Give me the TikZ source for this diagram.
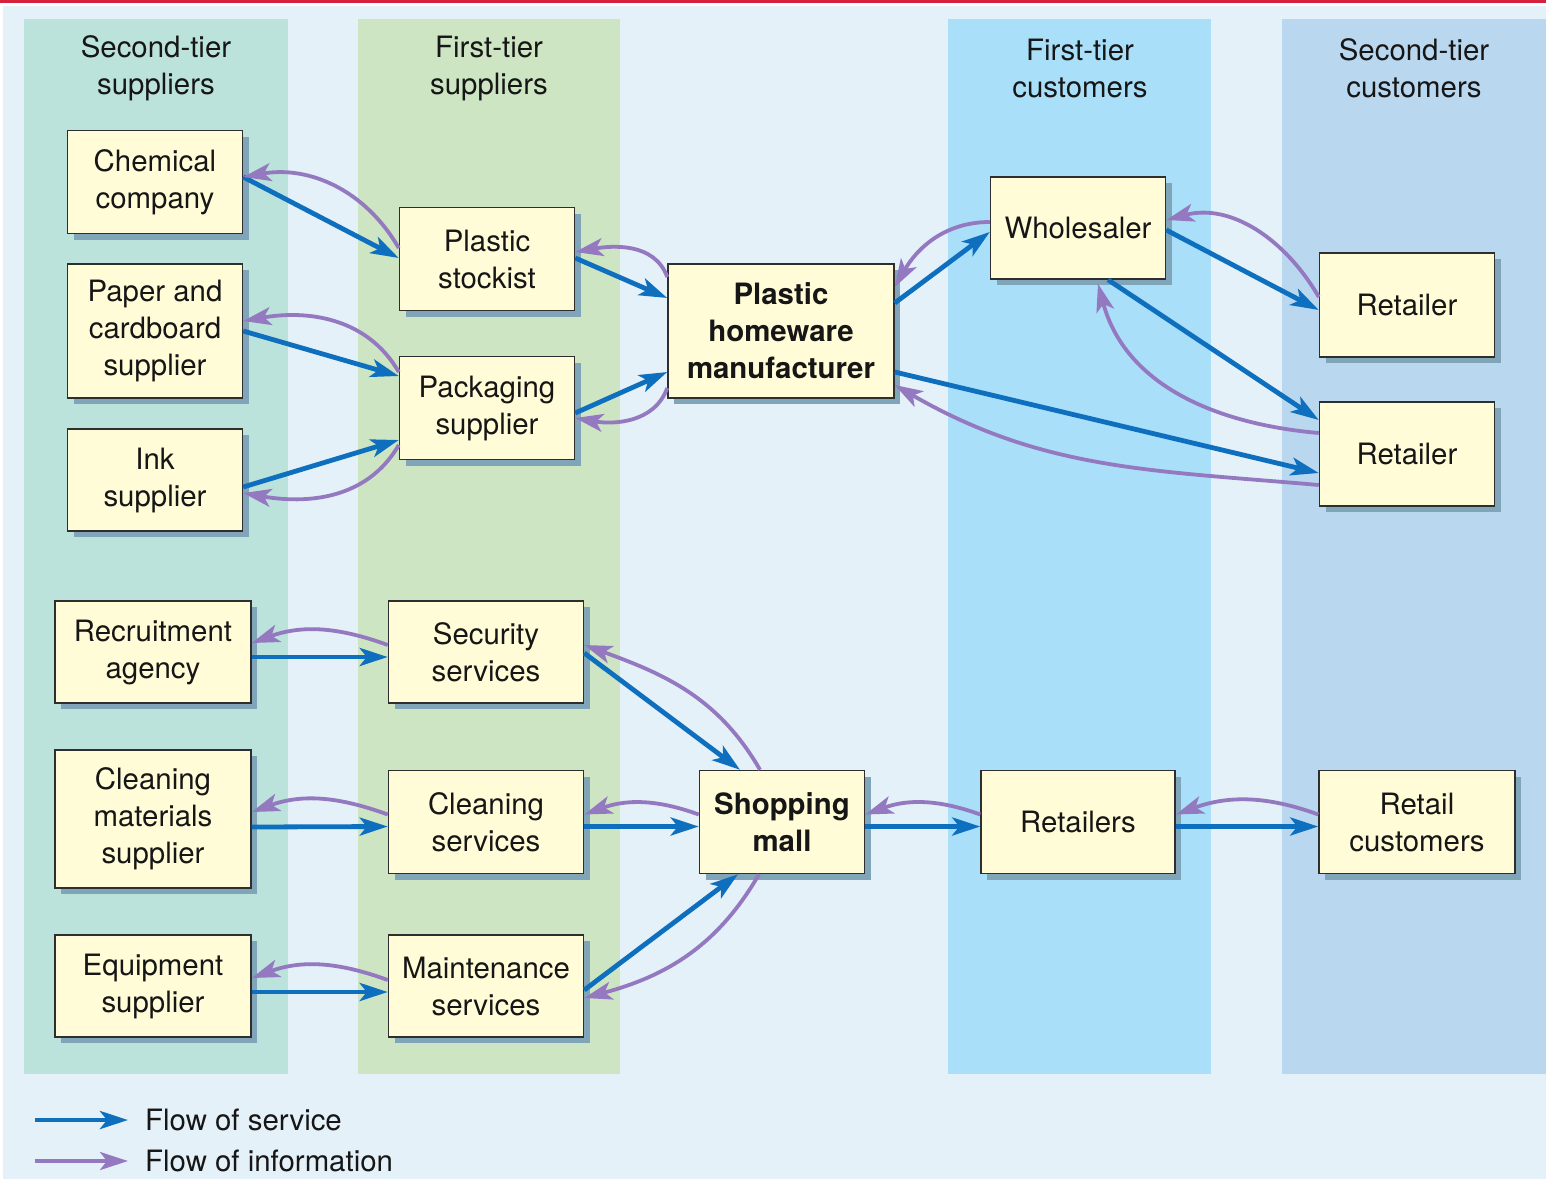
\documentclass[tikz,border=0pt]{standalone}
\usepackage{fontspec}
\setmainfont{TeX Gyre Heros}
\usepackage{tikz}
\usetikzlibrary{arrows.meta}
\usetikzlibrary{shadows}

\definecolor{redline}{HTML}{D5203E}
\definecolor{bgblue}{HTML}{E4F1F8}
\definecolor{colone}{HTML}{BBE3DB}
\definecolor{coltwo}{HTML}{CDE5C3}
\definecolor{colthree}{HTML}{A9DFF9}
\definecolor{colfour}{HTML}{B9D8EF}
\definecolor{boxfill}{HTML}{FFFCD7}
\definecolor{boxline}{HTML}{2E2E2E}
\definecolor{shadowc}{HTML}{80A4B8}
\definecolor{svcblue}{HTML}{0E6FBE}
\definecolor{infpurple}{HTML}{9479C0}
\definecolor{txt}{HTML}{161616}

\tikzset{
  hdr/.style={align=center,text=txt,inner sep=0pt,font=\fontsize{29.4}{37}\selectfont},
  box/.style={draw=boxline,line width=1.5pt,fill=boxfill,align=center,text=txt,inner sep=0pt,
    font=\fontsize{29.4}{37}\selectfont,
    drop shadow={shadow xshift=6pt,shadow yshift=-6pt,fill=shadowc,opacity=1}},
  hub/.style={box,font=\fontsize{29.4}{37}\selectfont\bfseries},
  svc/.style={draw=svcblue,line width=4.8pt,-{Stealth[length=28pt,width=18pt,inset=7pt]}},
  inf/.style={draw=infpurple,line width=3.8pt,-{Stealth[length=28pt,width=18pt,inset=7pt]}},
  legend/.style={anchor=west,inner sep=0pt,text=txt,font=\fontsize{29.4}{37}\selectfont}
}

\begin{document}
\begin{tikzpicture}[x=1pt,y=1pt]
  \useasboundingbox (0,0) rectangle (1546,-1179);
  \fill[white] (0,0) rectangle (1546,-1179);
  \fill[redline] (0,0) rectangle (1546,-3);
  \fill[bgblue] (3,-6) rectangle (1546,-1179);
  % columns
  \fill[colone] (24,-19) rectangle (288,-1074);
  \fill[coltwo] (358,-19) rectangle (620,-1074);
  \fill[colthree] (948,-19) rectangle (1211,-1074);
  \fill[colfour] (1282,-19) rectangle (1546,-1074);
  \node[hdr] (hsecsup) at (156,-68) {Second-tier\\suppliers};
  \node[hdr] (hfirsup) at (489,-68) {First-tier\\suppliers};
  \node[hdr] (hfircus) at (1080,-68) {First-tier\\customers};
  \node[hdr] (hseccus) at (1414,-68) {Second-tier\\customers};

  % plastic homeware chain
  \node[box,minimum width=175pt,minimum height=103pt] (chem) at (155,-182) {Chemical\\company};
  \node[box,minimum width=175pt,minimum height=134pt] (paper) at (155,-331) {Paper and\\cardboard\\supplier};
  \node[box,minimum width=175pt,minimum height=102pt] (ink) at (155,-480) {Ink\\supplier};
  \node[box,minimum width=175pt,minimum height=103pt] (plast) at (487,-259) {Plastic\\stockist};
  \node[box,minimum width=175pt,minimum height=103pt] (pack) at (487,-408) {Packaging\\supplier};
  \node[hub,minimum width=226pt,minimum height=134pt] (manu) at (781,-331) {Plastic\\homeware\\manufacturer};
  \node[box,minimum width=175pt,minimum height=102pt] (whole) at (1078,-228) {Wholesaler};
  \node[box,minimum width=175pt,minimum height=104pt] (retone) at (1407,-305) {Retailer};
  \node[box,minimum width=175pt,minimum height=104pt] (rettwo) at (1407,-454) {Retailer};

  % shopping mall chain
  \node[box,minimum width=196pt,minimum height=102pt] (recr) at (153,-652) {Recruitment\\agency};
  \node[box,minimum width=196pt,minimum height=138pt] (cmat) at (153,-819) {Cleaning\\materials\\supplier};
  \node[box,minimum width=196pt,minimum height=102pt] (equip) at (153,-986) {Equipment\\supplier};
  \node[box,minimum width=195pt,minimum height=102pt] (sec) at (486,-652) {Security\\services};
  \node[box,minimum width=195pt,minimum height=103pt] (cserv) at (486,-822) {Cleaning\\services};
  \node[box,minimum width=195pt,minimum height=102pt] (maint) at (486,-986) {Maintenance\\services};
  \node[hub,minimum width=165pt,minimum height=103pt] (mall) at (782,-822) {Shopping\\mall};
  \node[box,minimum width=194pt,minimum height=103pt] (rets) at (1078,-822) {Retailers};
  \node[box,minimum width=196pt,minimum height=103pt] (rcust) at (1417,-822) {Retail\\customers};

  % flows, upper chain
  \draw[svc] ([yshift=5pt]chem.east) -- ([yshift=1pt]plast.west);
  \draw[inf] ([yshift=11pt]plast.west) to[out=120,in=10] ([yshift=5pt]chem.east);
  \draw[svc] (paper.east) -- ([yshift=32pt]pack.west);
  \draw[inf] ([yshift=36pt]pack.west) to[out=120,in=10] ([yshift=10pt]paper.east);
  \draw[svc] ([yshift=-7pt]ink.east) -- ([yshift=-32pt]pack.west);
  \draw[inf] ([yshift=-37pt]pack.west) to[out=-120,in=-10] ([yshift=-13pt]ink.east);
  \draw[svc] ([yshift=1pt]plast.east) -- ([yshift=33pt]manu.west);
  \draw[inf] ([yshift=54pt]manu.west) to[out=110,in=10] ([yshift=7pt]plast.east);
  \draw[svc] ([yshift=-5pt]pack.east) -- ([yshift=-41pt]manu.west);
  \draw[inf] ([yshift=-57pt]manu.west) to[out=-110,in=-10] ([yshift=-10pt]pack.east);
  \draw[svc] ([yshift=28pt]manu.east) -- ([yshift=-4pt]whole.west);
  \draw[inf] ([yshift=6pt]whole.west) to[out=180,in=60] ([yshift=44pt]manu.east);
  \draw[svc] ([yshift=-2pt]whole.east) -- ([yshift=-5pt]retone.west);
  \draw[inf] ([yshift=8pt]retone.west) to[out=120,in=15] ([yshift=8pt]whole.east);
  \draw[svc] ([xshift=30pt]whole.south) -- ([yshift=34pt]rettwo.west);
  \draw[inf] ([yshift=21pt]rettwo.west) to[out=175,in=-75] ([xshift=20pt,yshift=-4pt]whole.south);
  \draw[svc] ([yshift=-41pt]manu.east) -- ([yshift=-19pt]rettwo.west);
  \draw[inf] ([yshift=-31pt]rettwo.west) to[out=175,in=-30] ([yshift=-54pt]manu.east);

  % flows, lower chain
  \draw[svc] ([yshift=-5pt]recr.east) -- ([yshift=-5pt]sec.west);
  \draw[inf] ([yshift=7pt]sec.west) to[out=160,in=20] ([yshift=9pt]recr.east);
  \draw[svc] ([yshift=-8pt]cmat.east) -- ([yshift=-4.5pt]cserv.west);
  \draw[inf] ([yshift=7.5pt]cserv.west) to[out=160,in=20] ([yshift=7pt]cmat.east);
  \draw[svc] ([yshift=-6pt]equip.east) -- ([yshift=-6pt]maint.west);
  \draw[inf] ([yshift=6pt]maint.west) to[out=160,in=20] ([yshift=8pt]equip.east);
  \draw[svc] ([yshift=-1pt]sec.east) -- ([xshift=-42pt]mall.north);
  \draw[inf] ([xshift=-22pt]mall.north) to[out=120,in=-20] ([yshift=7pt]sec.east);
  \draw[svc] ([yshift=-4.5pt]cserv.east) -- ([yshift=-4.5pt]mall.west);
  \draw[inf] ([yshift=7.5pt]mall.west) to[out=160,in=20] ([yshift=7.5pt]cserv.east);
  \draw[svc] ([yshift=-4pt]maint.east) -- ([xshift=-44pt]mall.south);
  \draw[inf] ([xshift=-23pt]mall.south) to[out=-120,in=15] ([yshift=-12pt]maint.east);
  \draw[svc] ([yshift=-4.5pt]mall.east) -- ([yshift=-4.5pt]rets.west);
  \draw[inf] ([yshift=7.5pt]rets.west) to[out=160,in=20] ([yshift=7.5pt]mall.east);
  \draw[svc] ([yshift=-4.5pt]rets.east) -- ([yshift=-4.5pt]rcust.west);
  \draw[inf] ([yshift=7.5pt]rcust.west) to[out=160,in=20] ([yshift=7.5pt]rets.east);

  % legend
  \coordinate (svcfrom) at (35,-1120);
  \coordinate (svcto) at (128,-1120);
  \coordinate (inffrom) at (35,-1161);
  \coordinate (infto) at (128,-1161);
  \draw[svc] (svcfrom) -- (svcto);
  \draw[inf] (inffrom) -- (infto);
  \node[legend] (svclabel) at (145,-1120) {Flow of service};
  \node[legend] (inflabel) at (145,-1161) {Flow of information};
\end{tikzpicture}
\end{document}
